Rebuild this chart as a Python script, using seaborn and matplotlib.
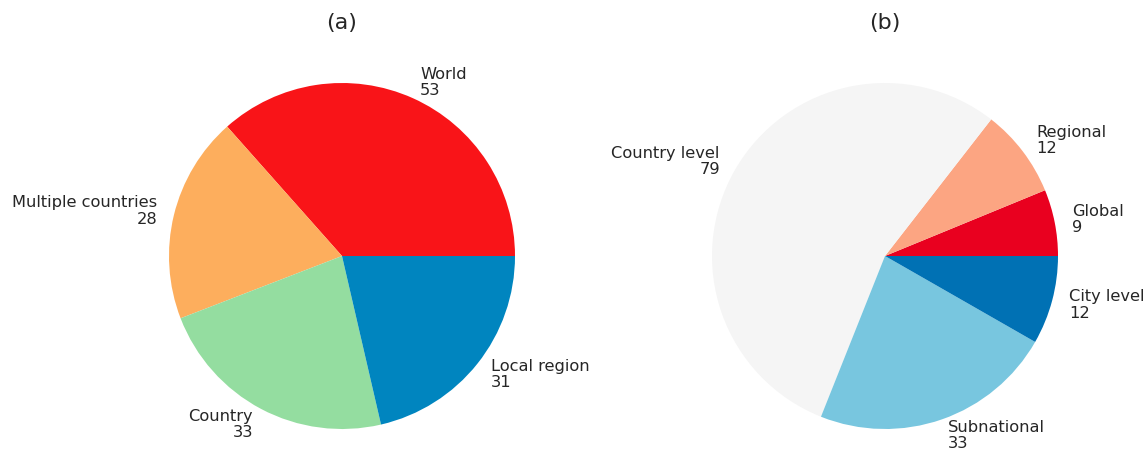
import matplotlib
matplotlib.use("Agg")
import matplotlib.pyplot as plt
import seaborn as sns

sns.set_theme(style="white")
plt.rcParams["font.family"] = ["DejaVu Sans"]

# Panel (a): spatial scope of the studies
scope_labels = ["World", "Multiple countries", "Country", "Local region"]
scope_counts = [53, 28, 33, 31]
scope_colors = ["#f91418", "#fdae5d", "#94dda0", "#0085bf"]

# Panel (b): administrative level of the studies
level_labels = ["Global", "Regional", "Country level", "Subnational", "City level"]
level_counts = [9, 12, 79, 33, 12]
level_colors = ["#e9001f", "#fca582", "#f5f5f5", "#78c6df", "#0071b4"]

W, H = 1147, 450
fig = plt.figure(figsize=(W / 100, H / 100), dpi=100)

radius_px = 173
half = radius_px * 1.25  # pie limits are +/-1.25 radii


def make_axes(cx, cy_from_top):
    cy = H - cy_from_top
    return fig.add_axes([(cx - half) / W, (cy - half) / H, 2 * half / W, 2 * half / H])


def draw_pie(ax, labels, counts, colors, title):
    texts = [f"{lab}\n{n}" for lab, n in zip(labels, counts)]
    ax.pie(counts, labels=texts, colors=colors, startangle=0,
           counterclock=True, labeldistance=1.1,
           wedgeprops={"linewidth": 0, "edgecolor": "none"},
           textprops={"fontsize": 11.7, "color": "#262626", "linespacing": 1.1})
    ax.set_xlim(-1.25, 1.25)
    ax.set_ylim(-1.25, 1.25)
    ax.set_aspect("equal")
    ax.axis("off")
    ax.text(0, 1.345, title, ha="center", va="center", fontsize=16, color="#262626")


ax_a = make_axes(342, 256)
draw_pie(ax_a, scope_labels, scope_counts, scope_colors, "(a)")

ax_b = make_axes(885, 256)
draw_pie(ax_b, level_labels, level_counts, level_colors, "(b)")

fig.savefig("out.png", dpi=100, facecolor="white")
